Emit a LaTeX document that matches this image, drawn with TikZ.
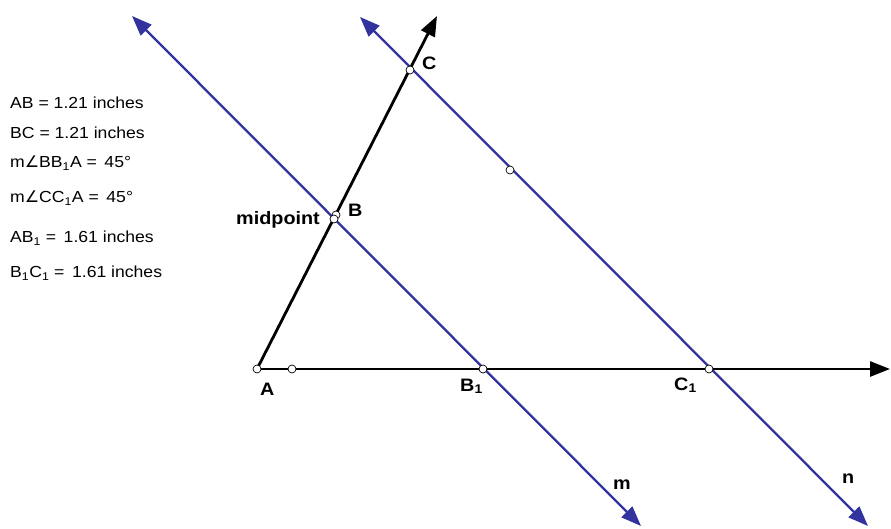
\documentclass[tikz,border=0pt]{standalone}
\usepackage{fontspec}
\setmainfont[FakeStretch=1.1]{Liberation Sans}
\newfontfamily\symfont{DejaVu Sans}
\usetikzlibrary{arrows.meta}
\definecolor{lineblue}{RGB}{51,51,160}
\newcommand{\ang}{{\symfont\char"2220}}
\newcommand{\sub}[1]{\textsubscript{#1}}

\begin{document}
\begin{tikzpicture}[x=1pt,y=-1pt,
      ray/.style={line width=2.8pt,black,-{Triangle[length=20pt,width=15pt]}},
      parline/.style={line width=2.3pt,lineblue,{Triangle[length=20pt,width=15pt]}-{Triangle[length=20pt,width=15pt]}},
      pt/.style={circle,draw=black,fill=white,line width=0.7pt,inner sep=0pt,minimum size=8pt},
      lbl/.style={font=\fontsize{18}{21}\selectfont\bfseries,inner sep=0pt,anchor=base west},
      meas/.style={font=\fontsize{16}{19}\selectfont,inner sep=0pt,anchor=base west}
    ]
      \useasboundingbox (0,0) rectangle (891,529);
      % construction points
      \coordinate (pA) at (257,369);
      \coordinate (pP) at (292,369);
      \coordinate (pB) at (334,219);
      \coordinate (pC) at (410,70);
      \coordinate (pB1) at (483,369);
      \coordinate (pC1) at (709,369);
      \coordinate (pM) at (510,170);
      % free ends of the rays and lines
      \coordinate (xend) at (890,369);
      \coordinate (cend) at (437,16);
      \coordinate (mtop) at (132,16);
      \coordinate (mbot) at (641,526);
      \coordinate (ntop) at (360,17);
      \coordinate (nbot) at (868,526);
      % parallel lines m and n
      \draw[parline] (mtop) -- (mbot);
      \draw[parline] (ntop) -- (nbot);
      % rays from A
      \draw[ray] (pA) -- (xend);
      \draw[ray] (pA) -- (cend);
      % points
      \node[pt] (A) at (pA) {};
      \node[pt] (P) at (pP) {};
      \node[pt] (Bmid) at (336,215) {};
      \node[pt] (B) at (pB) {};
      \node[pt] (C) at (pC) {};
      \node[pt] (B1) at (pB1) {};
      \node[pt] (C1) at (pC1) {};
      \node[pt] (M) at (pM) {};
      % labels
      \node[lbl] (labA) at (260,395) {A};
      \node[lbl] (labB) at (348,217) {B};
      \node[lbl] (labC) at (422,70) {C};
      \node[lbl] (labB1) at (460,391) {B\sub{1}};
      \node[lbl] (labC1) at (674,390) {C\sub{1}};
      \node[lbl,anchor=base east] (labmid) at (320,225) {midpoint};
      \node[lbl] (labm) at (613,489) {m};
      \node[lbl] (labn) at (842,483) {n};
      % measurements
      \node[meas] (ab) at (10,109) {AB = 1.21 inches};
      \node[meas] (bc) at (10,139) {BC = 1.21 inches};
      \node[meas] (angb) at (10,168) {m\ang BB\sub{1}A = \,45°};
      \node[meas] (angc) at (10,203) {m\ang CC\sub{1}A = \,45°};
      \node[meas] (ab1) at (10,243) {AB\sub{1} = \,1.61 inches};
      \node[meas] (b1c1) at (10,278) {B\sub{1}C\sub{1} = \,1.61 inches};
    \end{tikzpicture}
\end{document}
